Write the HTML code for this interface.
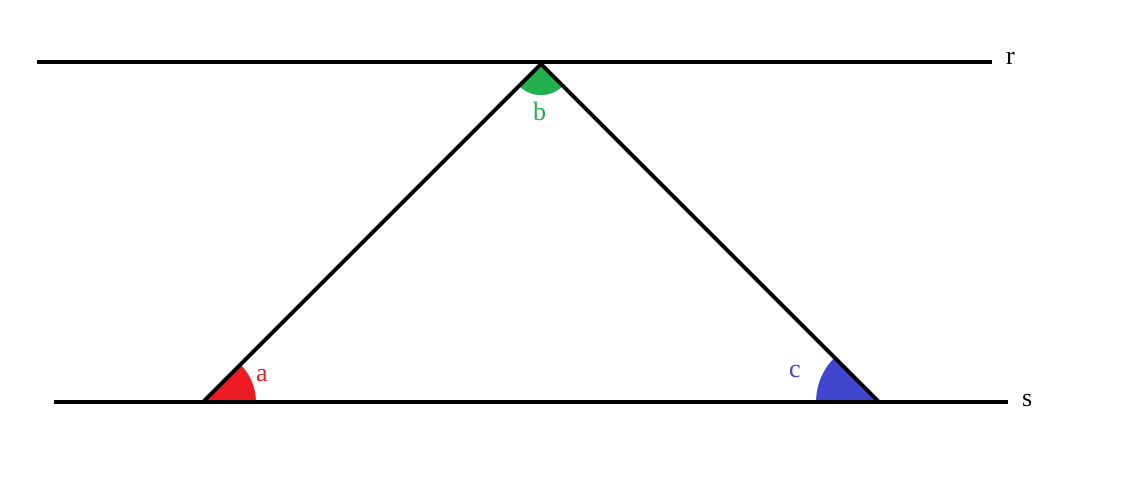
<!DOCTYPE html>
<html><head><meta charset="utf-8"><style>html,body{margin:0;padding:0;background:#fff}svg{display:block}</style></head>
<body>
<svg width="1137" height="481" viewBox="0 0 1137 481" font-family="'Liberation Serif', serif" font-size="26">
<rect width="1137" height="481" fill="#fff"/>
<path d="M203,402 L256,402 A53,53 0 0 0 240.5,364.5 Z" fill="#ed1c24"/>
<path d="M879,402 L816,402 A63,63 0 0 1 834.5,357.5 Z" fill="#3f48cc"/>
<path d="M541,64 L519,86 A31,31 0 0 0 563,86 Z" fill="#22b14c"/>
<line x1="37" y1="62" x2="992" y2="62" stroke="#000" stroke-width="4"/>
<line x1="54" y1="402" x2="1008" y2="402" stroke="#000" stroke-width="4"/>
<line x1="203" y1="402" x2="541" y2="64" stroke="#000" stroke-width="4"/>
<line x1="541" y1="64" x2="879" y2="402" stroke="#000" stroke-width="4"/>
<text x="1006" y="64">r</text>
<text x="1022" y="406">s</text>
<text x="256" y="381" fill="#ed1c24">a</text>
<text x="533" y="120" fill="#22b14c">b</text>
<text x="789" y="377" fill="#3f48cc">c</text>
</svg>
</body></html>
